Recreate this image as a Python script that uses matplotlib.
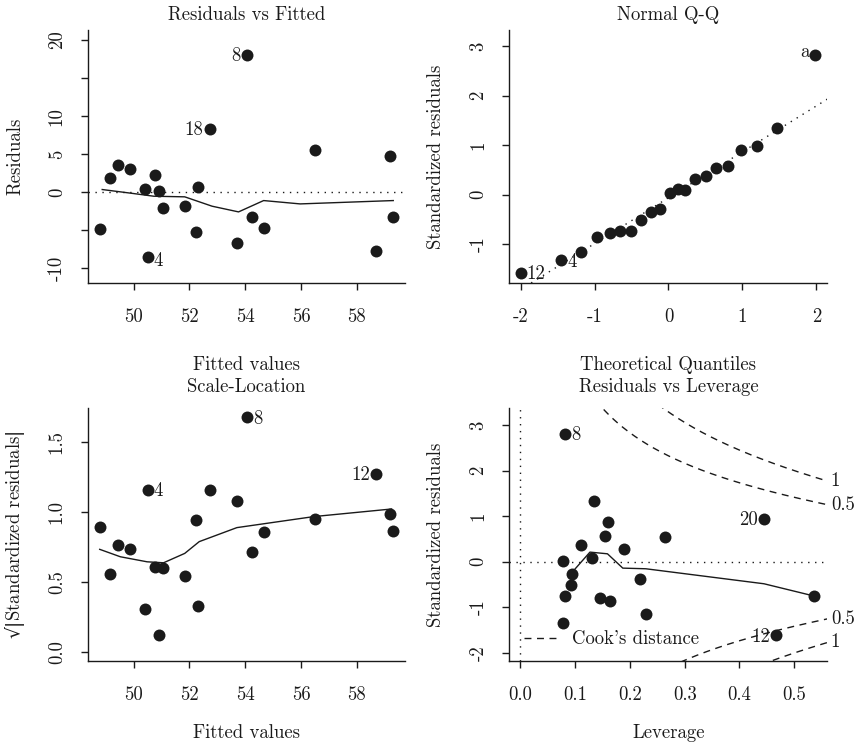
import numpy as np
import matplotlib
matplotlib.use('Agg')
import matplotlib.pyplot as plt

plt.rcParams['font.family'] = ['cmr10', 'DejaVu Serif']
plt.rcParams['mathtext.fontset'] = 'custom'
plt.rcParams['mathtext.rm'] = 'DejaVu Serif'
plt.rcParams['axes.unicode_minus'] = False
plt.rcParams['axes.formatter.use_mathtext'] = True

INK = '#1a1a1a'
FS = 13.5

# Residuals vs Fitted / Scale-Location (shared fitted values)
fitted = [48.78, 49.14, 49.44, 49.88, 50.42, 50.50, 50.75, 50.90, 51.04, 51.83, 52.22,
          52.32, 52.72, 53.70, 54.06, 54.23, 54.68, 56.51, 58.69, 59.19, 59.31]
residuals = [-4.82, 1.80, 3.55, 3.07, 0.48, -8.46, 2.28, 0.22, -2.06, -1.84, -5.18,
             0.70, 8.29, -6.71, 18.03, -3.25, -4.74, 5.48, -7.72, 4.82, -3.25]
sqrt_std_res = [0.890, 0.556, 0.766, 0.735, 0.305, 1.158, 0.604, 0.119, 0.597, 0.544, 0.940,
                0.332, 1.158, 1.079, 1.675, 0.716, 0.859, 0.947, 1.272, 0.988, 0.864]

rf_smooth_x = [48.87, 50.0, 50.72, 51.83, 52.81, 53.76, 54.66, 55.97, 59.31]
rf_smooth_y = [0.35, -0.18, -0.53, -0.61, -1.84, -2.59, -1.10, -1.54, -1.10]

sl_smooth_x = [48.78, 49.52, 50.48, 51.07, 51.83, 52.35, 53.70, 56.47, 59.25]
sl_smooth_y = [0.733, 0.680, 0.644, 0.637, 0.704, 0.788, 0.888, 0.967, 1.021]

# Normal Q-Q
theo_q = [-2.0, -1.455, -1.18, -0.968, -0.793, -0.649, -0.5, -0.365, -0.243, -0.117, 0.014,
          0.126, 0.225, 0.356, 0.509, 0.640, 0.802, 0.982, 1.194, 1.468, 1.986]
std_res_qq = [-1.585, -1.329, -1.153, -0.863, -0.776, -0.728, -0.728, -0.506, -0.351, -0.290, 0.034,
              0.108, 0.101, 0.317, 0.371, 0.533, 0.573, 0.904, 0.978, 1.342, 2.820]
qq_intercept = -0.064
qq_slope = 0.928

# Residuals vs Leverage
leverage = [0.082, 0.135, 0.160, 0.155, 0.111, 0.190, 0.264, 0.445, 0.0785, 0.130,
            0.094, 0.0925, 0.0815, 0.146, 0.164, 0.219, 0.229, 0.0785, 0.467, 0.537]
std_res_lev = [2.803, 1.328, 0.883, 0.569, 0.358, 0.285, 0.533, 0.942, 0.015, 0.088,
               -0.277, -0.504, -0.752, -0.788, -0.869, -0.372, -1.146, -1.343, -1.613, -0.752]
lev_smooth_x = [0.0985, 0.127, 0.159, 0.187, 0.229, 0.445, 0.537]
lev_smooth_y = [-0.175, 0.212, 0.175, -0.139, -0.153, -0.482, -0.752]
cook_levels = [0.5, 1]
n_params = 4


def style(ax, xlim, ylim, xticks, xlabels, yticks, ylabels):
    ax.set_xlim(*xlim)
    ax.set_ylim(*ylim)
    for s in ['top', 'right']:
        ax.spines[s].set_visible(False)
    for s in ['left', 'bottom']:
        ax.spines[s].set_color(INK)
        ax.spines[s].set_linewidth(1.0)
    ax.set_xticks(xticks)
    ax.set_xticklabels(xlabels)
    ax.set_yticks(yticks)
    ax.set_yticklabels(ylabels, rotation=90, va='center')
    ax.tick_params(axis='both', direction='out', length=5, width=1.0, colors=INK,
                   labelsize=FS, labelcolor=INK)
    ax.tick_params(axis='x', pad=13)
    ax.tick_params(axis='y', pad=11)


def titles(ax, title, xlabel, ylabel, top_row):
    ty = 1.06 if top_row else 1.083
    ax.text(0.5, ty, title, transform=ax.transAxes, ha='center', va='center',
            fontsize=FS, color=INK)
    ax.set_xlabel(xlabel, fontsize=FS, color=INK)
    ax.set_ylabel(ylabel, fontsize=FS, color=INK)
    ax.xaxis.set_label_coords(0.5, -0.324 if top_row else -0.285)
    ax.xaxis.label.set_va('center')
    ax.yaxis.set_label_coords(-0.23, 0.5)
    ax.yaxis.label.set_va('center')


def tag(ax, x, y, text, side, dy=-1):
    off = -4.5 if side == 'left' else 4.5
    ax.annotate(text, (x, y), xytext=(off, dy), textcoords='offset points',
                ha='right' if side == 'left' else 'left', va='center',
                fontsize=FS, color=INK)


def points(ax, x, y):
    ax.plot(x, y, 'o', color=INK, markersize=8.6, markeredgewidth=0, zorder=3)


dotted = dict(color=INK, linewidth=1.0, linestyle=(0, (1, 4)))

fig = plt.figure(figsize=(8.56, 7.49), dpi=100)
ax1 = fig.add_axes([0.1028, 0.6222, 0.3703, 0.3378])
ax2 = fig.add_axes([0.5952, 0.6222, 0.3715, 0.3378])
ax3 = fig.add_axes([0.1028, 0.1175, 0.3703, 0.3378])
ax4 = fig.add_axes([0.5952, 0.1175, 0.3715, 0.3378])

fit_ticks = [50, 52, 54, 56, 58]
fit_labels = ['50', '52', '54', '56', '58']

# Residuals vs Fitted
ax1.axhline(0, **dotted)
ax1.plot(rf_smooth_x, rf_smooth_y, color=INK, linewidth=1.0)
points(ax1, fitted, residuals)
style(ax1, (48.36, 59.73), (-11.93, 21.32), fit_ticks, fit_labels,
      [-10, -5, 0, 5, 10, 15, 20], ['-10', '', '0', '5', '10', '', '20'])
titles(ax1, 'Residuals vs Fitted', 'Fitted values', 'Residuals', True)
tag(ax1, fitted[14], residuals[14], '8', 'left')
tag(ax1, fitted[12], residuals[12], '18', 'left')
tag(ax1, fitted[5], residuals[5], '4', 'right', dy=-3)

# Normal Q-Q
ax2.axline((0, qq_intercept), slope=qq_slope, **dotted)
points(ax2, theo_q, std_res_qq)
style(ax2, (-2.149, 2.149), (-1.787, 3.326), [-2, -1, 0, 1, 2],
      ['-2', '-1', '0', '1', '2'], [-1, 0, 1, 2, 3], ['-1', '0', '1', '2', '3'])
titles(ax2, 'Normal Q-Q', 'Theoretical Quantiles', 'Standardized residuals', True)
tag(ax2, theo_q[0], std_res_qq[0], '12', 'right')
tag(ax2, theo_q[1], std_res_qq[1], '4', 'right')
tag(ax2, theo_q[-1], std_res_qq[-1], 'a', 'left', dy=2)

# Scale-Location
ax3.plot(sl_smooth_x, sl_smooth_y, color=INK, linewidth=1.0)
points(ax3, fitted, sqrt_std_res)
style(ax3, (48.36, 59.73), (-0.064, 1.742), fit_ticks, fit_labels,
      [0.0, 0.5, 1.0, 1.5], ['0.0', '0.5', '1.0', '1.5'])
titles(ax3, 'Scale-Location', 'Fitted values',
       '$\\mathrm{\u221a|}$Standardized residuals$\\mathrm{|}$', False)
tag(ax3, fitted[14], sqrt_std_res[14], '8', 'right')
tag(ax3, fitted[5], sqrt_std_res[5], '4', 'right')
tag(ax3, fitted[18], sqrt_std_res[18], '12', 'left')

# Residuals vs Leverage
xmax4 = 0.561
ax4.axhline(0, **dotted)
ax4.axvline(0, **dotted)
ax4.plot(lev_smooth_x, lev_smooth_y, color=INK, linewidth=1.0)
points(ax4, leverage, std_res_lev)
hh = np.linspace(0.01, xmax4, 200)
for i, c in enumerate(cook_levels):
    yy = np.sqrt(c * n_params * (1 - hh) / hh)
    lbl = "Cook's distance" if i == 0 else None
    ax4.plot(hh, yy, color=INK, linewidth=1.0, linestyle=(0, (5, 4)), label=lbl)
    ax4.plot(hh, -yy, color=INK, linewidth=1.0, linestyle=(0, (5, 4)))
    lab = '0.5' if c == 0.5 else '1'
    ax4.text(0.567, yy[-1], lab, ha='left', va='center', fontsize=FS, color=INK, clip_on=False)
    ax4.text(0.567, -yy[-1], lab, ha='left', va='center', fontsize=FS, color=INK, clip_on=False)
style(ax4, (-0.020, xmax4), (-2.175, 3.372), [0.0, 0.1, 0.2, 0.3, 0.4, 0.5],
      ['0.0', '0.1', '0.2', '0.3', '0.4', '0.5'],
      [-2, -1, 0, 1, 2, 3], ['-2', '-1', '0', '1', '2', '3'])
titles(ax4, 'Residuals vs Leverage', 'Leverage', 'Standardized residuals', False)
tag(ax4, leverage[0], std_res_lev[0], '8', 'right')
tag(ax4, leverage[7], std_res_lev[7], '20', 'left')
tag(ax4, leverage[18], std_res_lev[18], '12', 'left')
leg = ax4.legend(loc='center left', bbox_to_anchor=(0.047, 0.086), frameon=False,
                 fontsize=FS, handlelength=1.78, handletextpad=0.75,
                 borderpad=0, borderaxespad=0)
for t in leg.get_texts():
    t.set_color(INK)

fig.savefig('out.png', dpi=100, facecolor='white')
